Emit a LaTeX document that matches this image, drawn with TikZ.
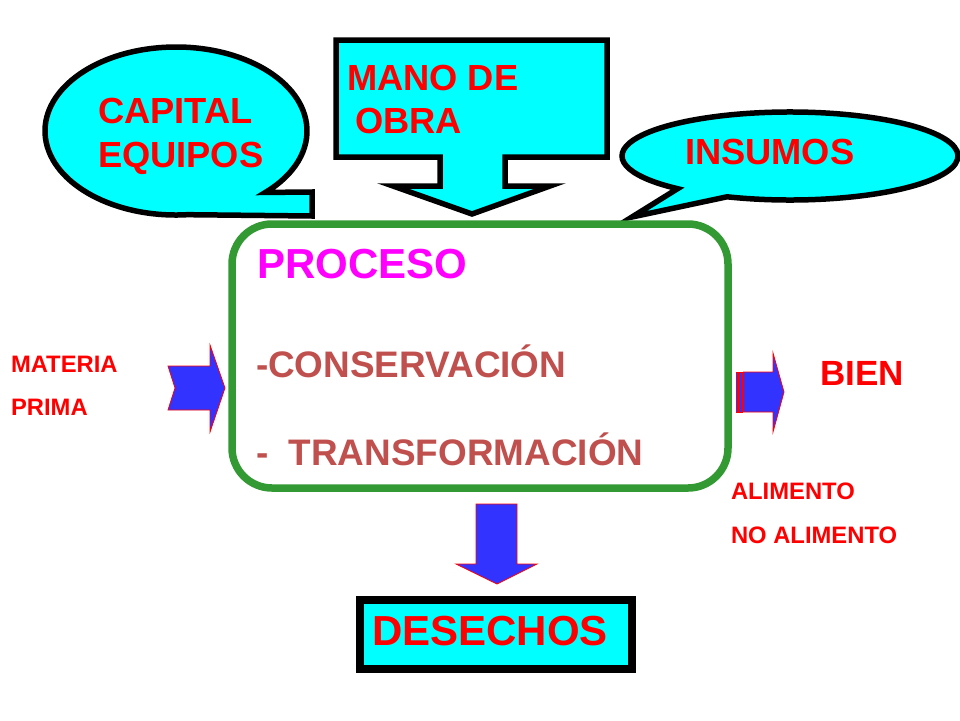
\documentclass[tikz,border=0pt]{standalone}
\usepackage{fontspec}
\setmainfont{Liberation Sans}
\definecolor{cyfill}{HTML}{00FFFF}
\definecolor{boxgreen}{HTML}{339933}
\definecolor{arrowblue}{HTML}{3333FF}
\definecolor{procmag}{HTML}{FF00FF}
\definecolor{steptext}{HTML}{C0504D}
\definecolor{lblred}{HTML}{FF0000}
\tikzset{
  calloutshape/.style={fill=cyfill, draw=black, line width=5.5pt, line join=miter},
  blockarrow/.style={fill=arrowblue, draw=red, line width=0.8pt, line join=miter},
  lbl/.style={anchor=base west, inner sep=0pt, outer sep=0pt, text=lblred},
  big/.style={font=\fontsize{36.3}{43}\selectfont\bfseries},
  stepfont/.style={font=\fontsize{36.9}{44}\selectfont\bfseries},
  huge/.style={font=\fontsize{42}{50}\selectfont\bfseries},
  small/.style={font=\fontsize{23.8}{28}\selectfont\bfseries},
}
\begin{document}
\begin{tikzpicture}[x=1pt,y=-1pt]
\useasboundingbox (0,0) rectangle (960,720);
\fill[white] (0,0) rectangle (960,720);

% CAPITAL callout
\draw[calloutshape] (176,131) ++(85:131 and 84)
  arc[start angle=85, end angle=407, x radius=131, y radius=84]
  -- (312,192) -- (312,216) -- cycle;
\node[lbl,big] (cap1) at (98,123) {CAPITAL};
\node[lbl,big] (cap2) at (98,167) {EQUIPOS};

% INSUMOS callout
\draw[calloutshape] (790,156) ++(112:168 and 44)
  arc[start angle=112, end angle=-228, x radius=168, y radius=44]
  -- (632,217) -- cycle;
\node[lbl,big] (ins) at (685,164) {INSUMOS};

% MANO DE OBRA callout arrow
\draw[calloutshape] (336,40) -- (607,40) -- (607,157) -- (505,157) -- (505,186)
  -- (550,186) -- (472,214) -- (393,186) -- (440,186) -- (440,157)
  -- (336,157) -- cycle;
\node[lbl,big] (mano1) at (347,90) {MANO DE};
\node[lbl,big] (mano2) at (355,133) {OBRA};

% PROCESO box
\draw[boxgreen, line width=7.5pt, rounded corners=40pt] (232,224) rectangle (728,488);
\node[lbl,huge,text=procmag] (proc) at (257,278) {PROCESO};
\node[lbl,stepfont,text=steptext] (cons) at (256,377) {-CONSERVACIÓN};
\node[lbl,stepfont,text=steptext] (trans) at (256,465) {-~~TRANSFORMACIÓN};

% input arrow (notched)
\draw[blockarrow] (168,366) -- (210,366) -- (210,345) -- (225,388) -- (210,432)
  -- (210,410) -- (168,410) -- (175,388) -- cycle;
\node[lbl,small] (mat1) at (11,372) {MATERIA};
\node[lbl,small] (mat2) at (11,415) {PRIMA};

% output arrow (striped)
\draw[blockarrow] (736,372) rectangle (738.5,412);
\draw[blockarrow] (739.8,372) rectangle (742.2,412);
\draw[blockarrow] (743.5,372) -- (773,372) -- (773,353) -- (784,392) -- (773,432)
  -- (773,412) -- (743.5,412) -- cycle;
\node[lbl,font=\fontsize{35}{42}\selectfont\bfseries] (bien) at (820,385) {BIEN};
\node[lbl,small] (ali1) at (731,499) {ALIMENTO};
\node[lbl,small] (ali2) at (731,543) {NO ALIMENTO};

% down arrow
\draw[blockarrow] (476,504) -- (517,504) -- (517,564) -- (537,564) -- (497,584)
  -- (456,564) -- (476,564) -- cycle;

% DESECHOS box
\draw[fill=cyfill, draw=black, line width=8pt] (360,600) rectangle (632,669);
\node[lbl,huge] (des) at (372,645) {DESECHOS};
\end{tikzpicture}
\end{document}
